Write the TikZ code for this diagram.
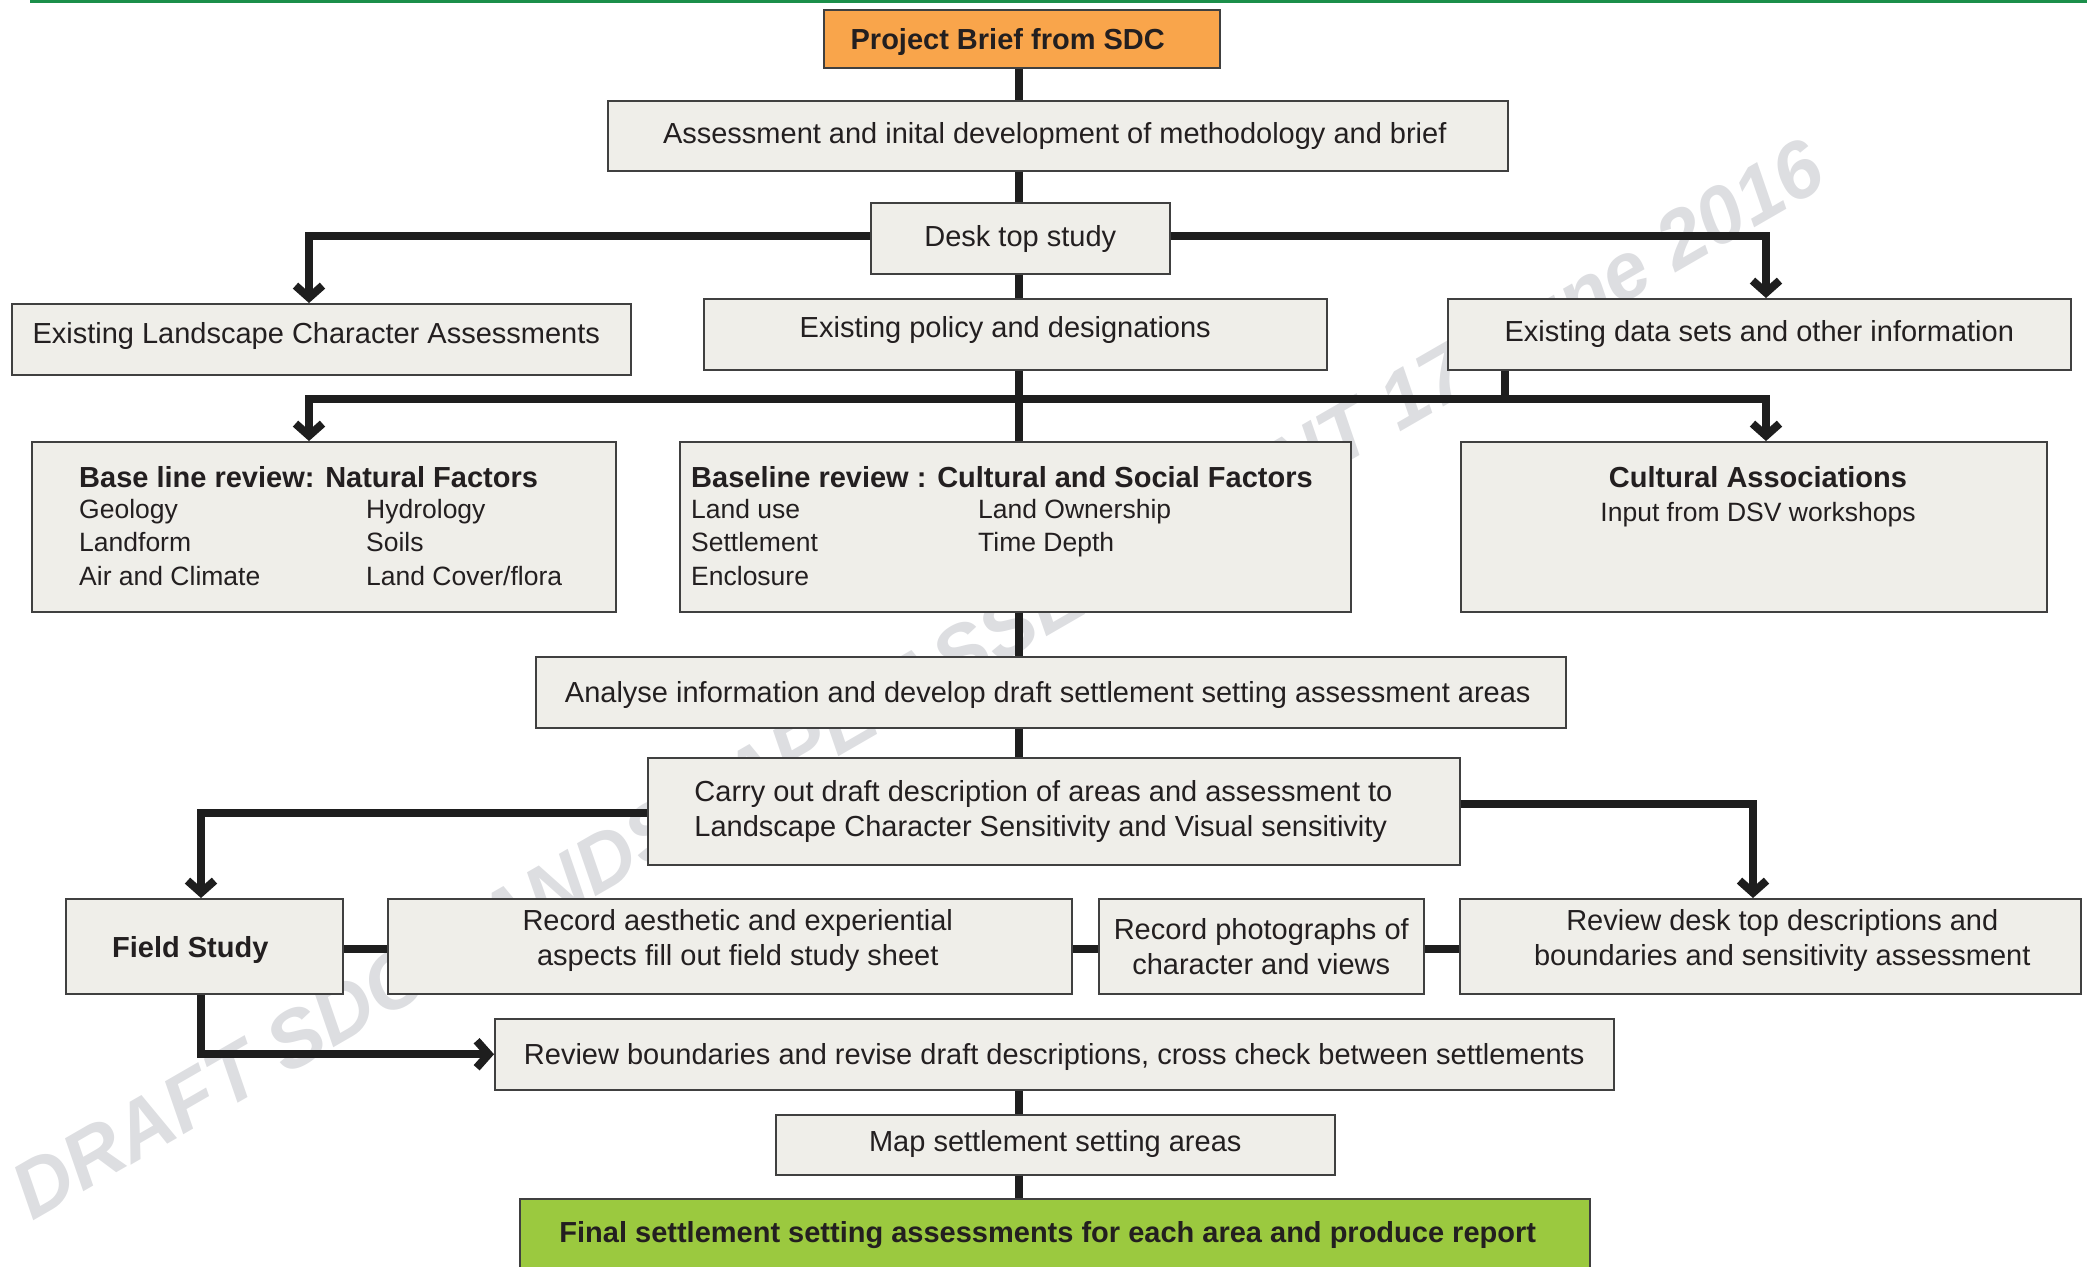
\documentclass[tikz,border=0pt]{standalone}
\usepackage{fontspec}
\setmainfont{Liberation Sans}
\usetikzlibrary{arrows.meta}
\definecolor{boxfill}{HTML}{EFEEE9}
\definecolor{boxline}{HTML}{404040}
\definecolor{txt}{HTML}{231F20}
\definecolor{orangebox}{HTML}{F9A54B}
\definecolor{greenbox}{HTML}{9BC93F}
\definecolor{rulegreen}{HTML}{1B8F4A}
\definecolor{wmgrey}{HTML}{DDDEE1}
\definecolor{linecol}{HTML}{1E1E1E}
\newcommand\up[2]{\raisebox{#1}[\height][\depth]{#2}}
\newcommand\twoline[3]{\up{#1}{\begin{tabular}{@{}c@{}}#2\\#3\end{tabular}}}
\begin{document}
\begin{tikzpicture}[x=1pt,y=-1pt,
  box/.style={draw=boxline, line width=1.5pt, fill=boxfill, anchor=north west,
    inner sep=0pt, text=txt, font=\fontsize{29}{35}\selectfont, align=center},
  lbl/.style={inner sep=0pt, text=txt, font=\fontsize{26.5}{32}\selectfont},
  conn/.style={line width=8pt, draw=linecol, line join=miter},
  arr/.style={conn, -{Straight Barb[length=12pt,width=27pt]}},
  bold/.style={font=\fontsize{29}{35}\selectfont\bfseries}
]
\useasboundingbox (0,0) rectangle (2087,1266);
% watermark
\node[rotate=30, text=wmgrey, inner sep=0pt,
  font=\fontsize{80}{80}\selectfont\bfseries\itshape] (wmk) at (918,679)
  {DRAFT SDC LANDSCAPE ASSESSMENT 17 June 2016};
% top rule
\draw[rulegreen, line width=3pt] (30,1.5) -- (2087,1.5);

% boxes
\node[box, fill=orangebox, bold, minimum width=396pt, minimum height=58pt] (pb) at (823,9) {\up{-3pt}{Project Brief from SDC}\hspace*{28pt}};
\node[box, minimum width=900pt, minimum height=70pt] (as) at (607,100) {Assessment and inital development of methodology and brief\hspace*{6pt}};
\node[box, minimum width=299pt, minimum height=71pt] (dt) at (870,202) {\up{-1pt}{Desk top study}};
\node[box, minimum width=619pt, minimum height=71pt] (lca) at (11,303) {\up{3pt}{Existing Landscape Character Assessments}\hspace*{10pt}};
\node[box, minimum width=623pt, minimum height=71pt] (pol) at (703,298) {\up{4pt}{Existing policy and designations}\hspace*{20pt}};
\node[box, minimum width=623pt, minimum height=71pt] (ds) at (1447,298) {Existing data sets and other information};
\node[box, minimum width=584pt, minimum height=170pt] (nat) at (31,441) {};
\node[box, minimum width=671pt, minimum height=170pt] (cul) at (679,441) {};
\node[box, minimum width=586pt, minimum height=170pt] (ca) at (1460,441) {};
\node[box, minimum width=1030pt, minimum height=71pt] (an) at (535,656) {\up{-3pt}{Analyse information and develop draft settlement setting assessment areas}\hspace*{6pt}};
\node[box, align=left, minimum width=812pt, minimum height=107pt] (co) at (647,757) {Carry out draft description of areas and assessment to\\Landscape Character Sensitivity and Visual sensitivity\hspace*{26pt}};
\node[box, bold, minimum width=277pt, minimum height=95pt] (fs) at (65,898) {\up{-4pt}{Field Study}\hspace*{28pt}};
\node[box, minimum width=684pt, minimum height=95pt] (ra) at (387,898) {\twoline{5pt}{Record aesthetic and experiential}{aspects fill out field study sheet}\hspace*{-16pt}};
\node[box, minimum width=325pt, minimum height=95pt] (rp) at (1098,898) {\twoline{-4pt}{Record photographs of}{character and views}};
\node[box, minimum width=621pt, minimum height=95pt] (rd) at (1459,898) {\twoline{5pt}{Review desk top descriptions and}{boundaries and sensitivity assessment}\hspace*{-24pt}};
\node[box, minimum width=1119pt, minimum height=71pt] (rb) at (494,1018) {\up{-3pt}{Review boundaries and revise draft descriptions, cross check between settlements}};
\node[box, minimum width=559pt, minimum height=60pt] (mp) at (775,1114) {\up{1pt}{Map settlement setting areas}};
\node[box, fill=greenbox, bold, minimum width=1070pt, minimum height=80pt] (fin) at (519,1198) {\up{4pt}{Final settlement setting assessments for each area and produce report}\hspace*{14pt}};

% texts in the three factor boxes
\node[lbl, bold, anchor=base west] (natT) at (79,487) {Base line review: Natural Factors};
\node[lbl, anchor=base west] (n1) at (79,518) {Geology};
\node[lbl, anchor=base west] (n2) at (79,551) {Landform};
\node[lbl, anchor=base west] (n3) at (79,585) {Air and Climate};
\node[lbl, anchor=base west] (n4) at (366,518) {Hydrology};
\node[lbl, anchor=base west] (n5) at (366,551) {Soils};
\node[lbl, anchor=base west] (n6) at (366,585) {Land Cover/flora};
\node[lbl, bold, anchor=base west] (culT) at (691,487) {Baseline review : Cultural and Social Factors};
\node[lbl, anchor=base west] (c1) at (691,518) {Land use};
\node[lbl, anchor=base west] (c2) at (691,551) {Settlement};
\node[lbl, anchor=base west] (c3) at (691,585) {Enclosure};
\node[lbl, anchor=base west] (c4) at (978,518) {Land Ownership};
\node[lbl, anchor=base west] (c5) at (978,551) {Time Depth};
\node[lbl, bold, anchor=base] (caT) at (1758,487) {Cultural Associations};
\node[lbl, anchor=base] (ca1) at (1758,521) {Input from DSV workshops};

% helper coordinates
\coordinate (cx) at (1019,0);
\coordinate (lx) at (309,0);
\coordinate (rx) at (1766,0);
\coordinate (dsx) at (1505,0);
\coordinate (bar) at (0,399);
\coordinate (dty) at (0,236);
\coordinate (fsx) at (201,0);
\coordinate (rdx) at (1753,0);
\coordinate (coly) at (0,813);
\coordinate (cory) at (0,804);
\coordinate (sy) at (0,949);

% connectors
\draw[conn] (pb.south -| cx) -- (as.north -| cx);
\draw[conn] (as.south -| cx) -- (dt.north -| cx);
\draw[conn] (dt.south -| cx) -- (pol.north -| cx);
\draw[conn] (pol.south -| cx) -- (cul.north -| cx);
\draw[arr] (dt.west |- dty) -- (lx |- dty) -- (lca.north -| lx);
\draw[arr] (dt.east |- dty) -- (rx |- dty) -- (ds.north -| rx);
\draw[conn] (ds.south -| dsx) -- (dsx |- bar);
\draw[arr] (cx |- bar) -- (lx |- bar) -- (nat.north -| lx);
\draw[arr] (cx |- bar) -- (rx |- bar) -- (ca.north -| rx);
\draw[conn] (cul.south -| cx) -- (an.north -| cx);
\draw[conn] (an.south -| cx) -- (co.north -| cx);
\draw[arr] (co.west |- coly) -- (fsx |- coly) -- (fs.north -| fsx);
\draw[arr] (co.east |- cory) -- (rdx |- cory) -- (rd.north -| rdx);
\draw[conn] (fs.east |- sy) -- (ra.west |- sy);
\draw[conn] (ra.east |- sy) -- (rp.west |- sy);
\draw[conn] (rp.east |- sy) -- (rd.west |- sy);
\draw[arr] (fs.south -| fsx) -- (fsx |- rb.west) -- (rb.west);
\draw[conn] (rb.south -| cx) -- (mp.north -| cx);
\draw[conn] (mp.south -| cx) -- (fin.north -| cx);
\end{tikzpicture}
\end{document}
